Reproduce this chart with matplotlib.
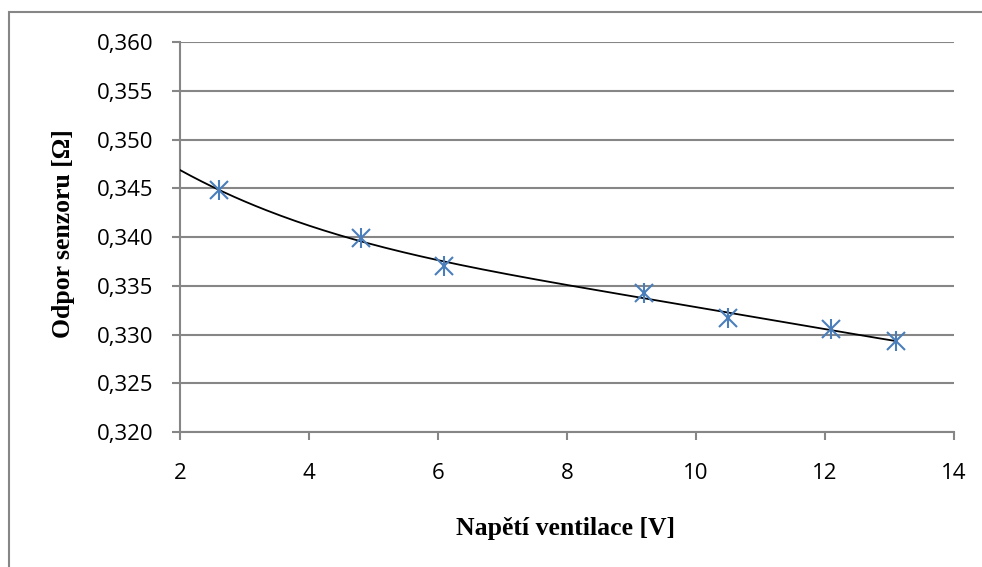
import matplotlib as mpl
mpl.use('Agg')
import matplotlib.pyplot as plt
import numpy as np
from matplotlib.ticker import FuncFormatter, MultipleLocator

napeti = [2.6, 4.8, 6.1, 9.2, 10.5, 12.1, 13.1]
odpor = [0.3448, 0.3399, 0.3370, 0.3343, 0.3317, 0.3306, 0.3293]

x_label = 'Napětí ventilace [V]'
y_label = 'Odpor senzoru [Ω]'

grey = '#868686'
blue = '#4A7EBB'

fig = plt.figure(figsize=(9.82, 5.67), dpi=100)
ax = fig.add_axes([180 / 982, 1 - 432 / 567, 774 / 982, 390 / 567])

# outer chart border
fig.add_artist(plt.Rectangle((9 / 982, -0.1), 1.2, 1 - 12 / 567 + 0.1,
                             transform=fig.transFigure, fill=False,
                             edgecolor=grey, linewidth=1.5))

# polynomial trend line, Excel style
coef = np.polyfit(napeti, odpor, 4)
xs = np.linspace(2, max(napeti), 200)
ax.plot(xs, np.polyval(coef, xs), color='black', linewidth=1.3, zorder=3)

# star marker = x + vertical bar
ax.plot(napeti, odpor, linestyle='none', marker='x', markersize=13,
        markeredgewidth=1.5, color=blue, zorder=4)
ax.plot(napeti, odpor, linestyle='none', marker='|', markersize=14.5,
        markeredgewidth=1.5, color=blue, zorder=4)

ax.set_xlim(2, 14)
ax.set_ylim(0.320, 0.360)
ax.xaxis.set_major_locator(MultipleLocator(2))
ax.yaxis.set_major_locator(MultipleLocator(0.005))
ax.yaxis.set_major_formatter(FuncFormatter(lambda v, p: f'{v:.3f}'.replace('.', ',')))

ax.grid(axis='y', color=grey, linewidth=1.5)
ax.set_axisbelow(True)
for s in ['top', 'right']:
    ax.spines[s].set_visible(False)
for s in ['left', 'bottom']:
    ax.spines[s].set_color(grey)
    ax.spines[s].set_linewidth(1.5)
ax.tick_params(axis='both', direction='out', color=grey, width=1.5, length=6,
               labelsize=16)
ax.tick_params(axis='y', pad=13)
ax.tick_params(axis='x', pad=16)
for lab in ax.get_xticklabels() + ax.get_yticklabels():
    lab.set_family('Open Sans')

fig.text(566 / 982, 1 - 528 / 567, x_label, family='Liberation Serif',
         fontweight='bold', fontsize=18.5, ha='center', va='center')
fig.text(64 / 982, 1 - 234 / 567, y_label, family='Liberation Serif',
         fontweight='bold', fontsize=18.5, ha='center', va='center', rotation=90)

fig.savefig('out.png', dpi=100)
